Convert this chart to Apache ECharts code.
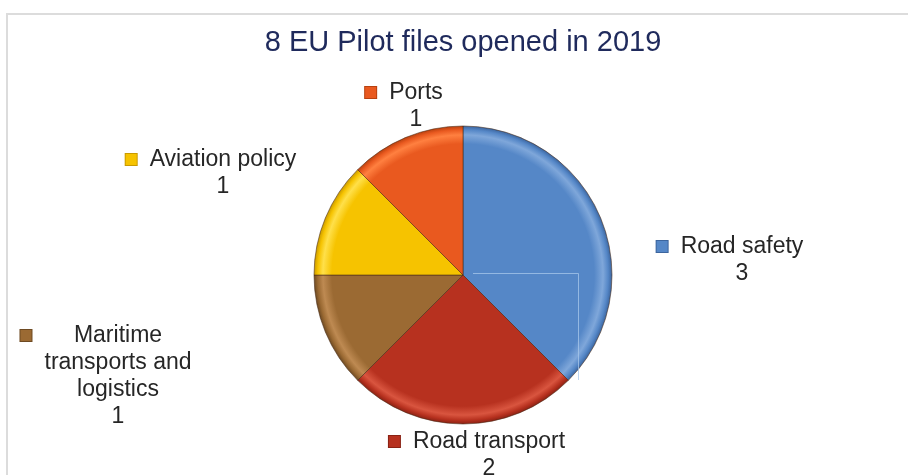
<!DOCTYPE html>
<html>
<head>
<meta charset="utf-8">
<script src="https://cdn.jsdelivr.net/npm/echarts@6/dist/echarts.min.js"></script>
<style>
  html, body { margin: 0; padding: 0; background: #ffffff; }
  #chart { width: 908px; height: 475px; }
</style>
</head>
<body>
<div id="chart"></div>
<script>
// EU Pilot files opened in 2019, by policy area
const categories = ['Road safety', 'Road transport', 'Maritime transports and logistics', 'Aviation policy', 'Ports'];
const fileCounts = [3, 2, 1, 1, 1];
const sliceColors = ['#5587C7', '#B7311F', '#9B6A33', '#F6C300', '#E9591F'];
const rimColors = ['#3C659E', '#8A2214', '#6E4A22', '#C99A00', '#B8410F'];
const lightColors = ['#7FA7DA', '#D9553F', '#BE8A52', '#FFE04A', '#FF8040'];

// label anchor points (centre x, middle of first text line)
const labelAnchors = [[742, 245], [489, 440], [118, 334], [223, 158], [416, 91]];

const CX = 463, CY = 275, R = 149;
const FONT = 'Liberation Sans, Arial, sans-serif';

function wrapName(name, maxChars) {
  const words = name.split(' ');
  const lines = [];
  let cur = '';
  words.forEach(w => {
    const next = cur ? cur + ' ' + w : w;
    if (next.length > maxChars && cur) { lines.push(cur); cur = w; }
    else cur = next;
  });
  if (cur) lines.push(cur);
  return lines;
}

function sliceFill(i) {
  return {
    type: 'radial', x: CX, y: CY, r: R, global: true,
    colorStops: [
      { offset: 0, color: sliceColors[i] },
      { offset: 0.88, color: sliceColors[i] },
      { offset: 0.94, color: lightColors[i] },
      { offset: 0.975, color: sliceColors[i] },
      { offset: 1, color: rimColors[i] }
    ]
  };
}

const rich = {
  s: { width: 24, align: 'right' },
  sl: { width: 24, align: 'left' },
  t: { fontSize: 23, lineHeight: 27, color: '#262626', fontFamily: FONT, align: 'center' }
};
categories.forEach((c, i) => {
  rich['m' + i] = {
    width: 11, height: 11, backgroundColor: sliceColors[i],
    borderColor: rimColors[i], borderWidth: 1, align: 'left'
  };
  rich['g' + i] = { width: 13, align: 'left' };
});

const pieData = categories.map((name, i) => ({
  name: name,
  value: fileCounts[i],
  itemStyle: { color: sliceFill(i) }
}));

const chart = echarts.init(document.getElementById('chart'), null, { renderer: 'canvas' });
chart.setOption({
  backgroundColor: '#ffffff',
  animation: false,
  title: {
    text: '8 EU Pilot files opened in 2019',
    left: 458, top: 23, textAlign: 'center',
    textStyle: { fontFamily: FONT, fontSize: 29, fontWeight: 'normal', color: '#1F2A5C' }
  },
  graphic: [
    { type: 'line', shape: { x1: 6, y1: 14, x2: 908, y2: 14 }, style: { stroke: '#dcdcdc', lineWidth: 2 }, silent: true },
    { type: 'line', shape: { x1: 7, y1: 13, x2: 7, y2: 475 }, style: { stroke: '#dcdcdc', lineWidth: 2 }, silent: true },
    { type: 'polyline', z: 100, shape: { points: [[473, 273.5], [578.5, 273.5], [578.5, 380]] },
      style: { stroke: 'rgba(170,200,235,0.75)', fill: null, lineWidth: 1 }, silent: true }
  ],
  series: [{
    type: 'pie',
    center: [CX, CY],
    radius: [0, R],
    startAngle: 90,
    clockwise: true,
    avoidLabelOverlap: false,
    itemStyle: { borderColor: 'rgba(70,40,20,0.55)', borderWidth: 1 },
    label: {
      show: true,
      position: 'outside',
      rich: rich,
      formatter: p => {
        const i = p.dataIndex;
        const lines = wrapName(p.name, 16);
        const out = lines.map((ln, k) =>
          k === 0 ? `{m${i}|}{g${i}|}{t|${ln}}{s|}` : `{sl|}{t|${ln}}{s|}`);
        out.push(`{sl|}{t|${p.value}}{s|}`);
        return out.join('\n');
      }
    },
    labelLine: { show: false },
    labelLayout: params => {
      const a = labelAnchors[params.dataIndex];
      return { x: a[0], y: a[1] - 12, align: 'center', verticalAlign: 'top' };
    },
    emphasis: { disabled: true },
    data: pieData
  }]
});
</script>
</body>
</html>
